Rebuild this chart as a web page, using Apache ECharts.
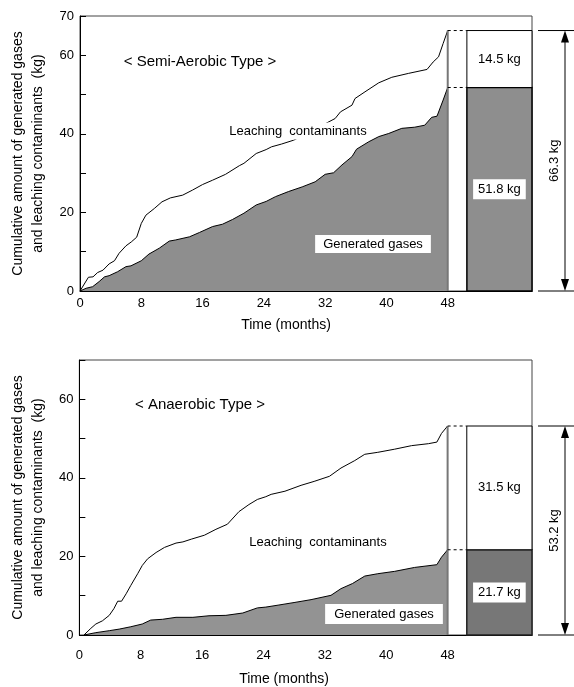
<!DOCTYPE html>
<html>
<head>
<meta charset="utf-8">
<script src="https://cdn.jsdelivr.net/npm/echarts@6/dist/echarts.min.js"></script>
<style>
  html, body { margin: 0; padding: 0; background: #fff; }
  #chart { width: 574px; height: 687px; }
</style>
</head>
<body>
<div id="chart"></div>
<script>
// Cumulative mass balance over 48 months for two landfill types.

const panelTitles = ['< Semi-Aerobic Type >', '< Anaerobic Type >'];
const xTicks = [0, 8, 16, 24, 32, 40, 48];

// Semi-aerobic: cumulative generated gases + leaching contaminants (upper curve)
const semiLeachMonths = [0, 1.1, 1.7, 2.3, 3.0, 3.8, 4.5, 5.1, 6.0, 6.7, 7.4, 8.0, 8.6, 9.7, 10.7, 11.8, 13.4, 14.7, 16.0, 17.3, 19.0, 20.8, 21.4, 23.0, 24.3, 25.0, 26.3, 27.9, 33.3, 34.0, 35.5, 35.9, 37.2, 39.0, 40.7, 42.9, 45.3, 46.1, 46.8, 47.4, 48];
const semiLeachValues = [0, 3.5, 3.6, 4.7, 5.3, 6.9, 7.7, 9.6, 11.5, 12.5, 13.7, 17.2, 19.3, 21.0, 22.7, 23.7, 24.4, 25.7, 27.1, 28.2, 29.7, 31.9, 32.5, 35.0, 36.0, 36.7, 37.4, 38.4, 43.9, 45.6, 47.3, 49.0, 50.7, 53.0, 54.4, 55.4, 56.4, 58.3, 59.6, 63.0, 66.3];

// Semi-aerobic: cumulative generated gases (shaded)
const semiGasMonths = [0, 0.8, 1.65, 2.5, 3.2, 3.8, 4.9, 6.0, 6.65, 8.0, 9.0, 10.35, 11.65, 12.5, 14.3, 15.6, 17.3, 18.6, 19.9, 21.4, 23.0, 24.3, 25.5, 27.2, 29.0, 30.7, 32.0, 33.1, 34.2, 35.5, 36.1, 37.7, 39.0, 40.3, 42.0, 43.7, 45.0, 45.9, 46.6, 47.4, 48];
const semiGasValues = [0, 0.7, 1.1, 2.4, 3.6, 3.9, 4.9, 6.2, 6.4, 7.7, 9.4, 10.9, 12.7, 13.0, 13.8, 14.9, 16.4, 17.0, 18.2, 19.8, 21.9, 22.8, 24.0, 25.3, 26.5, 27.8, 29.7, 30.1, 32.1, 34.2, 36.1, 38.0, 39.3, 40.1, 41.4, 41.7, 42.2, 44.2, 44.5, 48.6, 51.8];

// Anaerobic: upper curve
const anaLeachMonths = [0.6, 1.5, 2.15, 3.0, 3.9, 4.5, 5.0, 5.5, 6.1, 6.7, 7.6, 8.2, 8.9, 10.0, 11.1, 12.6, 13.5, 14.6, 16.3, 17.8, 19.3, 20.8, 22.1, 23.2, 24.3, 25.0, 26.8, 28.9, 30.6, 32.6, 34.1, 35.9, 37.2, 38.9, 41.1, 43.3, 45.5, 46.6, 47.2, 48];
const anaLeachValues = [0, 1.7, 2.8, 3.6, 5.0, 6.7, 8.6, 8.6, 10.5, 12.6, 15.6, 17.7, 19.4, 21.0, 22.3, 23.4, 23.7, 24.4, 25.4, 26.9, 28.2, 31.4, 33.2, 34.5, 35.2, 35.8, 36.6, 38.1, 39.1, 40.4, 42.5, 44.4, 46.0, 46.5, 47.3, 48.2, 48.7, 49.1, 51.3, 53.2];

// Anaerobic: generated gases
const anaGasMonths = [0.6, 2.15, 3.9, 5.2, 6.7, 8.2, 9.3, 10.85, 12.6, 14.8, 16.9, 19.1, 21.3, 23.2, 24.3, 25.9, 28.1, 30.2, 32.8, 34.1, 35.6, 37.2, 38.9, 41.1, 43.7, 46.6, 47.2, 48];
const anaGasValues = [0, 0.6, 1.1, 1.5, 2.1, 2.8, 3.8, 4.0, 4.5, 4.5, 4.9, 5.0, 5.6, 6.9, 7.1, 7.6, 8.3, 9.0, 10.1, 11.8, 13.1, 15.0, 15.6, 16.2, 17.2, 17.9, 19.8, 21.7];

// Totals after 48 months (kg): gases and leaching contaminants
const gasTotals = [51.8, 21.7];
const leachTotals = [14.5, 31.5];

const pair = (xs, ys) => xs.map((x, i) => [x, ys[i]]);

const FONT = '"Liberation Sans", Arial, Helvetica, sans-serif';
const END_MONTH = 48;
const BAR_FROM = 50.5;
const X_MAX = 59;

function breakdownRenderer(gasFill, gasStroke) {
  return function (params, api) {
    const gas = api.value(0);
    const leach = api.value(1);
    const total = gas + leach;
    const px = v => api.coord([v, 0])[0];
    const py = v => api.coord([0, v])[1];
    const xEnd = px(END_MONTH), xb0 = px(BAR_FROM), xb1 = px(X_MAX);
    const y0 = py(0), yg = py(gas), yt = py(total);
    const dimX = xb1 + 33;
    const black = '#000';
    const font13 = '13px ' + FONT;
    return {
      type: 'group',
      children: [
        { type: 'line', shape: { x1: xEnd, y1: y0, x2: xEnd, y2: yt }, style: { stroke: '#777', lineWidth: 2 } },
        { type: 'line', shape: { x1: xEnd, y1: yt, x2: xb0, y2: yt }, style: { stroke: black, lineWidth: 1, lineDash: [3, 3] } },
        { type: 'line', shape: { x1: xEnd, y1: yg, x2: xb0, y2: yg }, style: { stroke: black, lineWidth: 1, lineDash: [3, 3] } },
        { type: 'rect', shape: { x: xb0, y: yg, width: xb1 - xb0, height: y0 - yg }, style: { fill: gasFill, stroke: gasStroke, lineWidth: 1.5 } },
        { type: 'rect', shape: { x: xb0, y: yt, width: xb1 - xb0, height: yg - yt }, style: { fill: '#fff', stroke: black, lineWidth: 1 } },
        { type: 'text', x: (xb0 + xb1) / 2, y: (yt + yg) / 2,
          style: { text: leach.toFixed(1) + ' kg', font: font13, fill: black, align: 'center', verticalAlign: 'middle' } },
        { type: 'text', x: (xb0 + xb1) / 2, y: (yg + y0) / 2,
          style: { text: gas.toFixed(1) + ' kg', font: font13, fill: black, align: 'center', verticalAlign: 'middle',
                   backgroundColor: '#fff', padding: [4, 5, 3, 5] } },
        // overall dimension arrow
        { type: 'line', shape: { x1: xb1 + 6, y1: yt, x2: xb1 + 44, y2: yt }, style: { stroke: black, lineWidth: 1 } },
        { type: 'line', shape: { x1: xb1 + 6, y1: y0, x2: xb1 + 44, y2: y0 }, style: { stroke: black, lineWidth: 1 } },
        { type: 'line', shape: { x1: dimX, y1: yt + 8, x2: dimX, y2: y0 - 8 }, style: { stroke: black, lineWidth: 1 } },
        { type: 'polygon', shape: { points: [[dimX, yt], [dimX - 4, yt + 12], [dimX + 4, yt + 12]] }, style: { fill: black } },
        { type: 'polygon', shape: { points: [[dimX, y0], [dimX - 4, y0 - 12], [dimX + 4, y0 - 12]] }, style: { fill: black } },
        { type: 'text', x: dimX - 11, y: (yt + y0) / 2, rotation: Math.PI / 2,
          style: { text: total.toFixed(1) + ' kg', font: font13, fill: black, align: 'center', verticalAlign: 'middle' } }
      ]
    };
  };
}

const axisLabelStyle = { color: '#000', fontSize: 13, fontFamily: FONT };
const yName = 'Cumulative amount of generated gases\nand leaching contaminants  (kg)';

function xAxisFor(idx, margin) {
  return {
    type: 'value', gridIndex: idx, min: 0, max: X_MAX, interval: 8,
    axisLine: { show: true, lineStyle: { color: '#000', width: 1 } },
    axisTick: { show: false },
    splitLine: { show: false },
    axisLabel: Object.assign({ margin: margin, formatter: v => (xTicks.indexOf(v) >= 0 ? String(v) : '') }, axisLabelStyle)
  };
}

function yAxisFor(idx, showTop) {
  return {
    type: 'value', gridIndex: idx, min: 0, max: 70, interval: 10,
    axisLine: { show: true, lineStyle: { color: '#000', width: 1 } },
    axisTick: { show: true, inside: true, length: 6, lineStyle: { color: '#000' } },
    splitLine: { show: false },
    axisLabel: Object.assign({ margin: 6, formatter: v => ((v % 20 === 0 && v < 70) || (showTop && v === 70) ? String(v) : '') }, axisLabelStyle),
    name: yName, nameLocation: 'middle', nameRotate: 90, nameGap: 30,
    nameTextStyle: { color: '#000', fontSize: 14, fontFamily: FONT, lineHeight: 20 }
  };
}

function gasSeries(idx, data, fill) {
  return {
    type: 'line', xAxisIndex: idx, yAxisIndex: idx, data: data, symbol: 'none', z: 2,
    lineStyle: { color: '#000', width: 1 }, areaStyle: { color: fill, opacity: 1 }, silent: true
  };
}

function leachSeries(idx, data) {
  return {
    type: 'line', xAxisIndex: idx, yAxisIndex: idx, data: data, symbol: 'none', z: 3,
    lineStyle: { color: '#000', width: 1 }, silent: true
  };
}

function label(x, y, text, opts) {
  return {
    type: 'text', x: x, y: y, z: 100,
    style: Object.assign({ text: text, font: '13px ' + FONT, fill: '#000',
      align: 'center', verticalAlign: 'middle', textAlign: 'center', textVerticalAlign: 'middle' }, opts || {})
  };
}

const chart = echarts.init(document.getElementById('chart'), null, { renderer: 'canvas' });

chart.setOption({
  animation: false,
  backgroundColor: '#fff',
  grid: [
    { left: 80, top: 16, width: 452, height: 275, show: true, borderColor: '#444', borderWidth: 1 },
    { left: 79, top: 360, width: 453, height: 275, show: true, borderColor: '#444', borderWidth: 1 }
  ],
  xAxis: [xAxisFor(0, 6), xAxisFor(1, 14)],
  yAxis: [yAxisFor(0, true), yAxisFor(1, false)],
  series: [
    gasSeries(0, pair(semiGasMonths, semiGasValues), '#8e8e8e'),
    leachSeries(0, pair(semiLeachMonths, semiLeachValues)),
    { type: 'custom', xAxisIndex: 0, yAxisIndex: 0, clip: false, z: 4, silent: true,
      renderItem: breakdownRenderer('#8e8e8e', '#000'), data: [[gasTotals[0], leachTotals[0]]] },
    gasSeries(1, pair(anaGasMonths, anaGasValues), '#939393'),
    leachSeries(1, pair(anaLeachMonths, anaLeachValues)),
    { type: 'custom', xAxisIndex: 1, yAxisIndex: 1, clip: false, z: 4, silent: true,
      renderItem: breakdownRenderer('#777777', '#222'), data: [[gasTotals[1], leachTotals[1]]] }
  ],
  graphic: [
    label(200, 62, panelTitles[0], { font: '15px ' + FONT }),
    label(298, 131, 'Leaching  contaminants', { backgroundColor: '#fff', padding: [2, 2] }),
    label(373, 244, 'Generated gases', { backgroundColor: '#fff', padding: [3, 8, 2, 8] }),
    label(286, 325, 'Time (months)', { font: '14px ' + FONT }),
    label(200, 405, panelTitles[1], { font: '15px ' + FONT }),
    label(318, 542, 'Leaching  contaminants'),
    label(384, 614, 'Generated gases', { backgroundColor: '#fff', padding: [4, 9, 3, 9] }),
    label(284, 679, 'Time (months)', { font: '14px ' + FONT })
  ]
});
</script>
</body>
</html>
